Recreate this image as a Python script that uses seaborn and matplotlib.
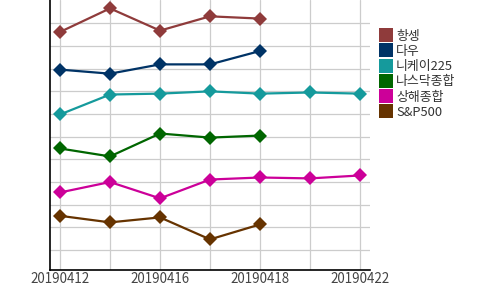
import matplotlib
matplotlib.use("Agg")
import matplotlib.pyplot as plt
import seaborn as sns
import pandas as pd
import numpy as np
from matplotlib.lines import Line2D

dates = ["20190412", "20190415", "20190416", "20190417", "20190418", "20190419", "20190422"]
series_names = ["항셍", "다우", "니케이225", "나스닥종합", "상해종합", "S&P500"]
hangseng = [10.62, 11.66, 10.68, 11.31, 11.21, np.nan, np.nan]
dow = [8.96, 8.78, 9.19, 9.19, 9.78, np.nan, np.nan]
nikkei = [6.98, 7.86, 7.90, 8.00, 7.90, 7.95, 7.90]
nasdaq = [5.48, 5.13, 6.14, 5.96, 6.05, np.nan, np.nan]
shanghai = [3.54, 4.00, 3.28, 4.11, 4.20, 4.16, 4.29]
sp500 = [2.51, 2.22, 2.44, 1.47, 2.13, np.nan, np.nan]
colors = ["#8f3b3b", "#003366", "#159a9c", "#006600", "#cc0099", "#663300"]
tick_labels = ["20190412", "", "20190416", "", "20190418", "", "20190422"]

sns.set_style("white")
plt.rcParams['font.family'] = ['Noto Sans CJK KR', 'DejaVu Sans']

rows = []
for name, vals in zip(series_names, [hangseng, dow, nikkei, nasdaq, shanghai, sp500]):
    for d, v in zip(dates, vals):
        rows.append({"date": d, "value": v, "series": name})
df = pd.DataFrame(rows).dropna()

fig = plt.figure(figsize=(5, 2.9), dpi=100)
ax = fig.add_axes([0.1, 0.069, 0.64, 0.931])

sns.lineplot(data=df, x="date", y="value", hue="series", hue_order=series_names,
             palette=colors, marker="D", markersize=7, markeredgewidth=0,
             linewidth=1.6, sort=False, ax=ax, legend=False)

ax.set_xlim(-0.2, 6.2)
ax.set_ylim(0.12, 12.03)
ax.set_yticks(np.arange(1, 12))
ax.set_yticklabels([])
ax.set_xticks(range(len(dates)))
ax.set_xticklabels(tick_labels, fontsize=9.6, color="#444444")
ax.tick_params(axis="both", length=0, pad=1.5)
ax.grid(True, color="#cccccc", linewidth=0.9)
ax.set_xlabel("")
ax.set_ylabel("")
for s in ["top", "right"]:
    ax.spines[s].set_visible(False)
for s in ["left", "bottom"]:
    ax.spines[s].set_color("black")
    ax.spines[s].set_linewidth(1.2)

handles = [Line2D([0], [0], marker="s", color="none", markerfacecolor=c,
                  markeredgewidth=0, markersize=9.5) for c in colors]
fig.legend(handles, series_names, loc="upper left", bbox_to_anchor=(0.752, 0.915),
           frameon=False, fontsize=9.3, handlelength=0.8, handletextpad=0.35,
           labelspacing=0.17, borderaxespad=0, labelcolor="#333333")

fig.savefig("out.png", dpi=100)
